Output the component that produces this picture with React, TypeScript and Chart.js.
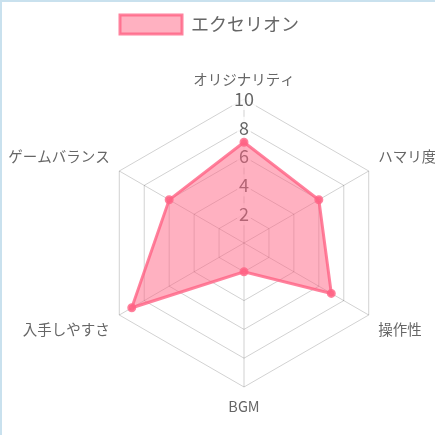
import { useEffect, useRef } from "react"
import { Chart, registerables } from "chart.js"

Chart.register(...registerables)

const axes = ["オリジナリティ", "ハマリ度", "操作性", "BGM", "入手しやすさ", "ゲームバランス"]
const seriesName = "エクセリオン"
const scores = [7, 6, 7, 2, 9, 6]

const FONT = "'Noto Sans CJK JP', 'Noto Sans', sans-serif"

// radial area placement inside the 433px canvas (Chart.js' own label fit shrinks it too much)
const CENTER_X = 242
const CENTER_Y = 241
const RADIUS = 144

export default function App() {
  const canvasRef = useRef<HTMLCanvasElement>(null)
  const chartInstance = useRef<Chart | null>(null)

  useEffect(() => {
    if (!canvasRef.current) return
    if (chartInstance.current) chartInstance.current.destroy()
    const ctx = canvasRef.current.getContext("2d")
    if (!ctx) return

    chartInstance.current = new Chart(ctx, {
      type: "radar",
      data: {
        labels: axes,
        datasets: [
          {
            label: seriesName,
            data: scores,
            backgroundColor: "rgba(255, 99, 132, 0.5)",
            borderColor: "rgba(255, 99, 132, 0.8)",
            borderWidth: 3,
            pointBackgroundColor: "rgba(255, 99, 132, 0.8)",
            pointBorderColor: "rgba(255, 99, 132, 0.8)",
            pointRadius: 3,
          },
        ],
      },
      options: {
        animation: false,
        responsive: true,
        maintainAspectRatio: false,
        layout: { padding: { top: 3, bottom: 0, left: 0, right: 18 } },
        plugins: {
          legend: {
            labels: {
              color: "#666",
              font: { family: FONT, size: 18 },
              boxWidth: 62,
              boxHeight: 19,
            },
          },
          tooltip: { enabled: false },
        },
        scales: {
          r: {
            min: 0,
            max: 10,
            afterSetDimensions: (scale: any) => {
              scale.setCenterPoint = function () {
                this.xCenter = CENTER_X
                this.yCenter = CENTER_Y
                this.drawingArea = RADIUS
              }
            },
            ticks: {
              stepSize: 2,
              color: "#666",
              font: { family: FONT, size: 18 },
            },
            grid: { color: "rgba(0, 0, 0, 0.18)" },
            angleLines: { color: "rgba(0, 0, 0, 0.18)" },
            pointLabels: {
              color: "#666",
              padding: 0,
              font: { family: FONT, size: 14.5 },
            },
          },
        },
      },
    })

    return () => {
      if (chartInstance.current) {
        chartInstance.current.destroy()
        chartInstance.current = null
      }
    }
  }, [])

  return (
    <div
      style={{
        position: "absolute",
        left: 0,
        top: 0,
        width: 435,
        height: 435,
        boxSizing: "border-box",
        borderTop: "2px solid #c9e1ee",
        borderLeft: "2px solid #c9e1ee",
        background: "#fff",
      }}
    >
      <canvas ref={canvasRef} />
    </div>
  )
}
